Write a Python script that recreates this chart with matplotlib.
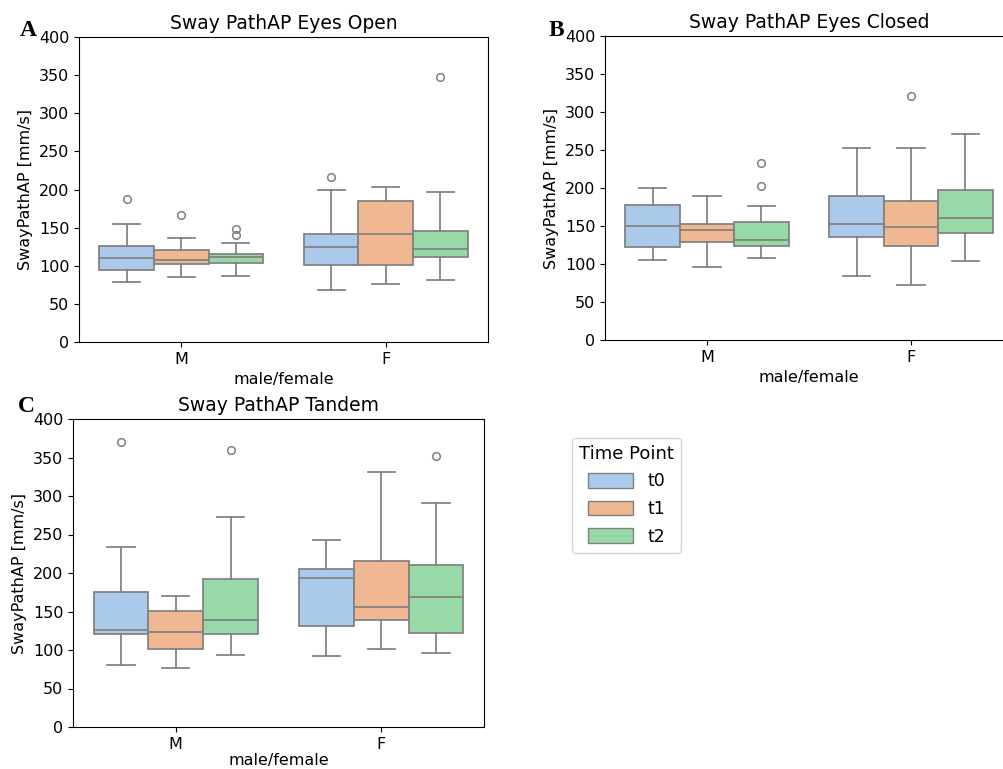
import colorsys

import matplotlib
matplotlib.use("Agg")
import matplotlib.pyplot as plt
from matplotlib.colors import to_rgb
from matplotlib.patches import Patch

groups = ["M", "F"]
time_points = ["t0", "t1", "t2"]

# box stats per panel: [group][time point] -> (whislo, q1, med, q3, whishi)
open_stats = [
    [(78.5, 93.8, 109.9, 126.5, 154.4), (85, 102, 107.7, 120.4, 137), (86.4, 103, 111.7, 115.2, 129.4)],
    [(68.5, 100.8, 124.8, 142.2, 199.3), (75.9, 101.2, 142.2, 184.5, 203.7), (80.7, 112.1, 122.6, 145.7, 196.3)],
]
open_fliers = [[[187.6], [167], [148.3, 140]], [[216], [], [347.7]]]

closed_stats = [
    [(105.3, 122.4, 149.6, 178, 200.4), (95.6, 128.9, 144.7, 153, 189.5), (108.3, 124.1, 131.1, 155.7, 176.3)],
    [(83.8, 135.1, 152.6, 189.9, 252.2), (72.8, 123.7, 148.2, 182.9, 252.2), (103.9, 140.8, 160.1, 197.4, 271.5)],
]
closed_fliers = [[[], [], [232.5, 203]], [[], [321], []]]

tandem_stats = [
    [(80.3, 120.6, 125.4, 175.7, 233.4), (76.4, 101.5, 122.8, 151, 170.5), (93.3, 120.2, 139.3, 192.6, 273.3)],
    [(92.4, 130.6, 193, 205.6, 243), (101.5, 138.8, 155.3, 215.2, 331), (95.9, 122.3, 169.2, 210.4, 291.5)],
]
tandem_fliers = [[[370.5], [], [359.7]], [[], [], [352.3]]]

titles = ["Sway PathAP Eyes Open", "Sway PathAP Eyes Closed", "Sway PathAP Tandem"]
letters = ["A", "B", "C"]
ylabel = "SwayPathAP [mm/s]"
xlabel = "male/female"


def desat(c, prop=0.75):
    h, l, s = colorsys.rgb_to_hls(*to_rgb(c))
    return colorsys.hls_to_rgb(h, l, s * prop)


palette = [desat(c) for c in ["#a1c9f4", "#ffb482", "#8de5a1"]]
line_col = "#808080"


def draw(ax, stats, fliers, title, labelpad=4):
    w = 0.8 / 3
    for g in range(len(groups)):
        for h in range(len(time_points)):
            lo, q1, med, q3, hi = stats[g][h]
            d = dict(whislo=lo, q1=q1, med=med, q3=q3, whishi=hi, fliers=fliers[g][h])
            pos = g + (h - 1) * w
            ax.bxp([d], positions=[pos], widths=w, patch_artist=True, showfliers=True,
                   capwidths=w / 2, manage_ticks=False,
                   boxprops=dict(facecolor=palette[h], edgecolor=line_col, linewidth=1.25),
                   medianprops=dict(color=line_col, linewidth=1.25),
                   whiskerprops=dict(color=line_col, linewidth=1.25),
                   capprops=dict(color=line_col, linewidth=1.25),
                   flierprops=dict(marker="o", markerfacecolor="none", markeredgecolor=line_col,
                                   markersize=5.5, markeredgewidth=1.1))
    ax.set_xlim(-0.5, 1.5)
    ax.set_ylim(0, 400)
    ax.set_xticks(range(len(groups)))
    ax.set_xticklabels(groups)
    ax.set_yticks(range(0, 401, 50))
    ax.tick_params(labelsize=11.5)
    ax.set_title(title, fontsize=13.5)
    ax.set_xlabel(xlabel, fontsize=11.5, labelpad=labelpad)
    ax.set_ylabel(ylabel, fontsize=11.5)


fig = plt.figure(figsize=(10.04, 7.69), dpi=100)
W, H = 1004, 769
boxes = [(79, 37, 488, 342), (605, 36, 1013, 340), (73, 419, 484, 727)]
letter_pos = [(20, 36), (549, 36), (18, 412)]
all_stats = [open_stats, closed_stats, tandem_stats]
all_fliers = [open_fliers, closed_fliers, tandem_fliers]
pads = [4, 4, 1]

for i in range(3):
    x0, y0, x1, y1 = boxes[i]
    ax = fig.add_axes([x0 / W, 1 - y1 / H, (x1 - x0) / W, (y1 - y0) / H])
    draw(ax, all_stats[i], all_fliers[i], titles[i], pads[i])
    lx, ly = letter_pos[i]
    fig.text(lx / W, 1 - ly / H, letters[i], fontsize=17, fontweight="bold",
             family="Liberation Serif", ha="left", va="baseline")

handles = [Patch(facecolor=palette[h], edgecolor=line_col, label=time_points[h]) for h in range(3)]
fig.legend(handles=handles, title="Time Point", loc="upper left", borderaxespad=0,
           bbox_to_anchor=(572 / W, 1 - 438 / H), fontsize=12.5, title_fontsize=13,
           handlelength=2.6, handleheight=0.9, labelspacing=0.55)

fig.savefig("out.png", dpi=100)
